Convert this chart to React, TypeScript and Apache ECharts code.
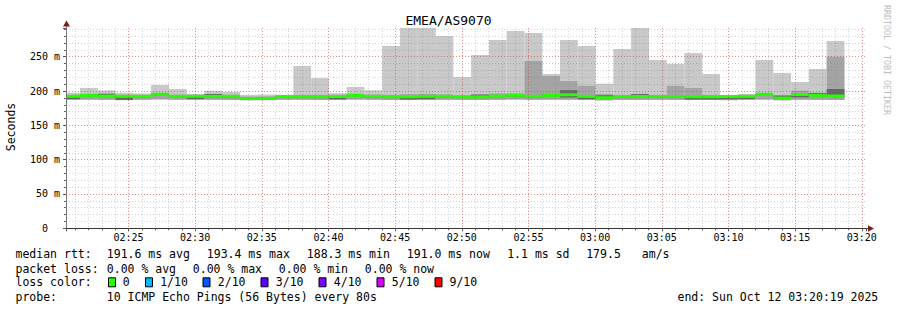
import React, { useEffect, useRef } from 'react';
import * as echarts from 'echarts';

// ---------- data ----------
const chartTitle = 'EMEA/AS9070';
const yAxisTitle = 'Seconds';
const watermark = 'RRDTOOL / TOBI OETIKER';

// time axis in seconds after 02:20:00
const stepSeconds = 80;
const firstStepStart = 2;
const xMin = 19; // 02:20:19
const xMax = 3619; // 03:20:19
const yMax = 292; // ms

const timeLabels = ['02:25', '02:30', '02:35', '02:40', '02:45', '02:50', '02:55', '03:00', '03:05', '03:10', '03:15', '03:20'];

// smoke per 80 s step (ms)
const rttMax = [
  197.6, 204.4, 201.1, 197.5, 196.5, 208.8, 203.0, 195.6, 200.5, 198.6,
  194.5, 195.0, 194.5, 236.5, 218.9, 197.0, 205.9, 201.1, 265.6, 300,
  300, 280.1, 220.4, 252.5, 274.3, 287.5, 284.5, 224.8, 274.3, 265.6,
  210.7, 261.2, 300, 245.2, 239.8, 255.4, 224.8, 193.2, 195.2, 245.2,
  226.4, 213.1, 232.1, 272.8,
];
const rttUpper = [
  194.5, 196.0, 195.0, 194.5, 194.5, 197.5, 194.8, 194.5, 194.8, 194.5,
  192.0, 192.0, 194.0, 194.5, 194.5, 194.5, 196.0, 194.8, 194.5, 195.5,
  196.0, 195.0, 193.8, 194.5, 196.5, 196.5, 243.7, 221.9, 214.6, 207.5,
  195.6, 194.5, 196.0, 194.5, 207.5, 204.4, 194.5, 193.0, 194.8, 197.5,
  194.0, 200.5, 197.3, 250.0,
];
const rttCore = [
  193.4, 194.7, 196.2, 193.3, 193.3, 196.2, 193.3, 193.3, 195.8, 193.3,
  190.1, 190.3, 192.8, 192.8, 192.8, 193.0, 194.7, 193.3, 192.8, 192.8,
  193.3, 193.3, 192.5, 195.0, 193.7, 194.7, 193.3, 194.7, 201.3, 193.2,
  193.8, 193.0, 195.5, 193.0, 193.0, 192.7, 192.7, 193.0, 193.3, 196.2,
  193.3, 195.9, 197.2, 203.0,
];
const rttMedian = [
  192.4, 193.7, 192.7, 192.3, 192.3, 195.2, 192.3, 192.3, 192.3, 192.3,
  189.1, 189.3, 191.8, 191.8, 191.8, 192.0, 193.7, 192.3, 191.8, 191.8,
  192.3, 192.3, 191.5, 191.5, 192.7, 193.7, 192.3, 193.7, 194.6, 192.2,
  190.3, 192.0, 192.0, 192.0, 192.0, 191.7, 191.7, 192.0, 192.3, 195.2,
  189.8, 194.9, 193.7, 192.8,
];
const rttLower = [
  188.4, 192.2, 191.2, 187.0, 190.8, 193.7, 190.8, 188.3, 190.8, 190.8,
  187.6, 187.8, 190.3, 190.3, 190.3, 188.0, 192.2, 190.8, 190.3, 187.8,
  188.3, 190.8, 190.0, 190.0, 191.2, 192.2, 190.8, 192.2, 190.6, 188.2,
  188.8, 190.5, 190.5, 190.5, 190.5, 187.7, 187.7, 188.0, 188.3, 193.7,
  188.3, 190.9, 192.2, 191.3,
];
const rttMin = [
  187.0, 187.5, 187.2, 186.8, 187.3, 187.8, 187.4, 187.2, 187.3, 187.0,
  186.6, 186.7, 187.2, 187.3, 187.0, 186.9, 187.6, 187.3, 187.0, 186.8,
  186.9, 187.2, 187.0, 187.0, 187.3, 187.6, 187.2, 187.5, 187.4, 186.9,
  186.5, 187.0, 187.1, 187.2, 187.0, 186.9, 187.0, 186.7, 187.1, 187.6,
  186.6, 187.4, 187.2, 187.0,
];

const medianLabel = 'median rtt:';
const medianStats = ['191.6 ms avg', '193.4 ms max', '188.3 ms min', '191.0 ms now', '1.1 ms sd', '179.5', 'am/s'];
const lossLabel = 'packet loss:';
const lossStats = ['0.00 % avg', '0.00 % max', '0.00 % min', '0.00 % now'];
const lossColorLabel = 'loss color:';
const lossColors = ['#26ff00', '#00b8ff', '#0059ff', '#5e00ff', '#7e00ff', '#dd00ff', '#ff0000'];
const lossLabels = ['0', '1/10', '2/10', '3/10', '4/10', '5/10', '9/10'];
const probeLabel = 'probe:';
const probeText = '10 ICMP Echo Pings (56 Bytes) every 80s';
const endText = 'end: Sun Oct 12 03:20:19 2025';

// ---------- layout / style ----------
const MONO = '"DejaVu Sans Mono", "Liberation Mono", monospace';
const W = 897;
const H = 310;
const GRID = { left: 66, right: 31, top: 27.9, bottom: 81.7 };
const plotRight = W - GRID.right;
const plotBottom = H - GRID.bottom;
const minorGrid = 'rgba(120,120,120,0.34)';
const majorGrid = 'rgba(235,50,50,0.45)';
const DASH = [1, 2];
const LIGHT = '#c9c9c9';
const MID = '#a4a4a4';
const DARK = '#676767';
const ARROW = '#7f1d1d';

const rowY = [254.3, 268.7, 282.3, 296.7];
const leftX = 15.5;
const valueX = 106.8;
const medianX = [106.8, 206.8, 306.8, 406.8, 507.2, 586.2, 641.8];
const lossX = [106.8, 192.8, 278.8, 364.8];
const boxX = [108.5, 145.5, 203, 261, 319, 377, 435];
const boxLabelX = [122.8, 160.2, 217.8, 275.8, 333.8, 391.8, 449.5];
const endX = 677.5;

function text(x: number, y: number, t: string, extra: any = {}) {
  return {
    type: 'text',
    x,
    y,
    silent: true,
    style: {
      text: t,
      fontFamily: MONO,
      fontSize: 11.5,
      fill: '#000',
      align: 'left',
      verticalAlign: 'middle',
      ...extra,
    },
  };
}

function buildOption(): any {
  const smokeData = rttMax.map((mx, i) => {
    const start = firstStepStart + i * stepSeconds;
    return [start, start + stepSeconds, rttMin[i], mx, rttUpper[i], rttLower[i], rttCore[i], rttMedian[i]];
  });

  const renderItem = (params: any, api: any) => {
    const cs = params.coordSys;
    const start = api.value(0);
    const end = api.value(1);
    let x0 = api.coord([start, 0])[0];
    const x1 = api.coord([end, 0])[0];
    x0 = Math.max(x0, cs.x);
    const yOf = (v: number) => Math.max(api.coord([start, v])[1], cs.y);
    const band = (a: number, b: number, fill: string) => {
      const yt = yOf(b);
      const yb = yOf(a);
      return { type: 'rect', shape: { x: x0, y: yt, width: x1 - x0, height: yb - yt }, style: { fill } };
    };
    const yMed = yOf(api.value(7));
    return {
      type: 'group',
      children: [
        band(api.value(2), api.value(3), LIGHT),
        band(api.value(2), api.value(4), MID),
        band(api.value(5), api.value(6), DARK),
        { type: 'rect', shape: { x: x0, y: yMed - 1.5, width: x1 - x0, height: 3 }, style: { fill: lossColors[0] } },
      ],
    };
  };

  const graphic: any[] = [];
  graphic.push(text(W / 2, 20, chartTitle, { fontSize: 13, align: 'center' }));
  graphic.push({
    ...text(11, 127, yAxisTitle, { align: 'center' }),
    rotation: Math.PI / 2,
  });
  graphic.push({
    ...text(887, 60, watermark, { align: 'center', fontSize: 8.3, fill: '#bdbdbd' }),
    rotation: -Math.PI / 2,
  });
  // axis extensions and arrows
  graphic.push({ type: 'line', silent: true, shape: { x1: GRID.left + 0.5, y1: GRID.top, x2: GRID.left + 0.5, y2: 25 }, style: { stroke: '#777', lineWidth: 1 } });
  graphic.push({ type: 'polygon', silent: true, shape: { points: [[GRID.left - 3, 26.5], [GRID.left + 4, 26.5], [GRID.left + 0.5, 20.5]] }, style: { fill: ARROW } });
  graphic.push({ type: 'line', silent: true, shape: { x1: plotRight, y1: plotBottom + 0.2, x2: 869, y2: plotBottom + 0.2 }, style: { stroke: '#333', lineWidth: 1 } });
  graphic.push({ type: 'polygon', silent: true, shape: { points: [[868, plotBottom - 3], [868, plotBottom + 3.5], [874, plotBottom + 0.2]] }, style: { fill: ARROW } });

  // legend rows
  graphic.push(text(leftX, rowY[0], medianLabel));
  medianStats.forEach((s, i) => graphic.push(text(medianX[i], rowY[0], s)));
  graphic.push(text(leftX, rowY[1], lossLabel));
  lossStats.forEach((s, i) => graphic.push(text(lossX[i], rowY[1], s)));
  graphic.push(text(leftX, rowY[2], lossColorLabel));
  lossColors.forEach((c, i) => {
    graphic.push({
      type: 'rect',
      silent: true,
      shape: { x: boxX[i], y: rowY[2] - 4.5, width: 7, height: 9 },
      style: { fill: c, stroke: '#000', lineWidth: 1 },
    });
    graphic.push(text(boxLabelX[i], rowY[2], lossLabels[i]));
  });
  graphic.push(text(leftX, rowY[3], probeLabel));
  graphic.push(text(valueX, rowY[3], probeText));
  graphic.push(text(endX, rowY[3], endText));

  const xLabelFormatter = (v: number) => {
    if (v % 300 !== 0 || v < 300) return '';
    return timeLabels[v / 300 - 1] ?? '';
  };
  const yLabelFormatter = (v: number) => {
    if (v === 0) return '{z|0}';
    if (v % 50 !== 0) return '';
    return `${v} m`;
  };

  return {
    animation: false,
    backgroundColor: '#ffffff',
    grid: { ...GRID, containLabel: false, outerBoundsMode: 'none' },
    xAxis: [
      {
        type: 'value',
        position: 'bottom',
        min: xMin,
        max: xMax,
        minInterval: 60,
        maxInterval: 60,
        z: 3,
        axisLine: { show: true, onZero: false, lineStyle: { color: '#333', width: 1 } },
        axisTick: { show: true, length: 2, lineStyle: { color: '#555' } },
        axisLabel: { show: false },
        splitLine: { show: true, showMinLine: false, showMaxLine: false, lineStyle: { color: minorGrid, type: DASH, width: 1 } },
      },
      {
        type: 'value',
        position: 'bottom',
        offset: 0,
        min: xMin,
        max: xMax,
        minInterval: 300,
        maxInterval: 300,
        z: 4,
        axisLine: { show: false, onZero: false },
        axisTick: { show: true, length: 3, lineStyle: { color: '#555' } },
        axisLabel: { show: true, margin: 4, fontSize: 10, fontFamily: MONO, color: '#000', formatter: xLabelFormatter },
        splitLine: { show: true, showMinLine: false, showMaxLine: false, lineStyle: { color: majorGrid, type: DASH, width: 1 } },
      },
    ],
    yAxis: [
      {
        type: 'value',
        position: 'left',
        min: 0,
        max: yMax,
        interval: 10,
        z: 3,
        axisLine: { show: true, onZero: false, lineStyle: { color: '#777', width: 1 } },
        axisTick: { show: true, length: 2, lineStyle: { color: '#666' } },
        axisLabel: { show: false },
        splitLine: { show: true, showMinLine: false, showMaxLine: false, lineStyle: { color: minorGrid, type: DASH, width: 1 } },
      },
      {
        type: 'value',
        position: 'left',
        offset: 0,
        min: 0,
        max: yMax,
        interval: 50,
        z: 4,
        axisLine: { show: false, onZero: false },
        axisTick: { show: true, length: 3, lineStyle: { color: '#555' } },
        axisLabel: {
          show: true,
          margin: 6,
          fontSize: 10,
          fontFamily: MONO,
          color: '#000',
          formatter: yLabelFormatter,
          rich: { z: { fontSize: 10, fontFamily: MONO, color: '#000', padding: [0, 12, 0, 0] } },
        },
        splitLine: { show: true, showMinLine: false, showMaxLine: false, lineStyle: { color: majorGrid, type: DASH, width: 1 } },
      },
    ],
    series: [
      {
        type: 'custom',
        xAxisIndex: 0,
        yAxisIndex: 0,
        z: 1,
        silent: true,
        encode: { x: [0, 1], y: [2, 3] },
        data: smokeData,
        renderItem,
      },
    ],
    graphic,
  };
}

export default function App() {
  const ref = useRef<HTMLDivElement>(null);
  useEffect(() => {
    if (!ref.current) return;
    const chart = echarts.init(ref.current, null, { renderer: 'svg' });
    chart.setOption(buildOption());
    return () => chart.dispose();
  }, []);
  return (
    <div
      ref={ref}
      style={{ position: 'fixed', left: 0, top: 0, width: W, height: H, background: '#fff' }}
    />
  );
}
